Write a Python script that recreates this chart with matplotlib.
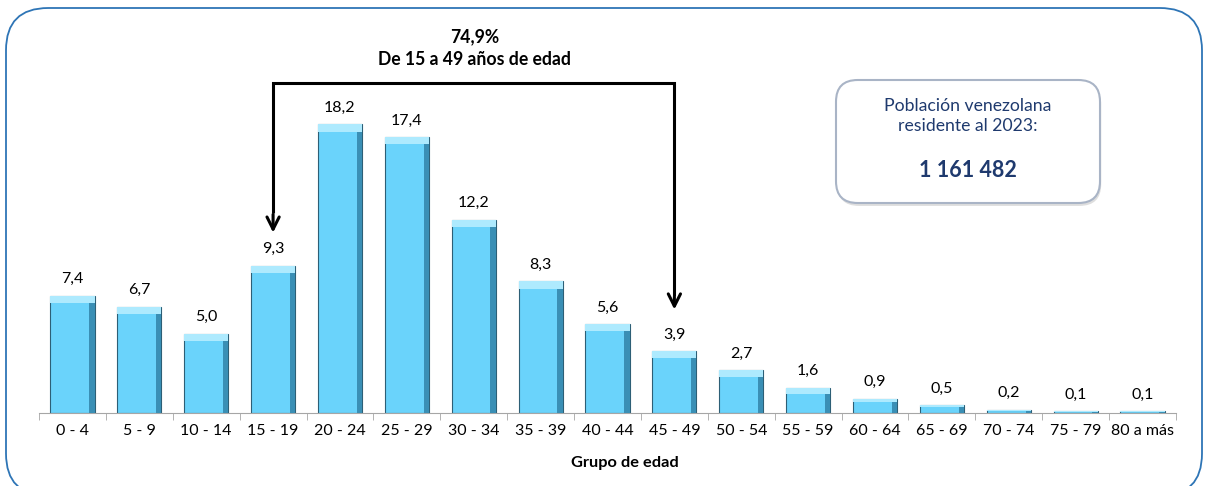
import matplotlib
matplotlib.use("Agg")
import matplotlib.pyplot as plt
import numpy as np
from matplotlib.patches import FancyBboxPatch

plt.rcParams['font.family'] = ['Lato', 'DejaVu Sans']

grupos = ["0 - 4", "5 - 9", "10 - 14", "15 - 19", "20 - 24", "25 - 29", "30 - 34",
          "35 - 39", "40 - 44", "45 - 49", "50 - 54", "55 - 59", "60 - 64",
          "65 - 69", "70 - 74", "75 - 79", "80 a más"]
porcentaje = [7.4, 6.7, 5.0, 9.3, 18.2, 17.4, 12.2, 8.3, 5.6, 3.9, 2.7, 1.6, 0.9,
              0.5, 0.2, 0.1, 0.1]
titulo = "74,9%\nDe 15 a 49 años de edad"
caja_texto = "Población venezolana\nresidente al 2023:"
total = "1 161 482"

fig = plt.figure(figsize=(12.06, 4.86), dpi=100)
asp = 1206/486

# outer rounded frame
frame = FancyBboxPatch((6/1206, -0.02), 1196/1206, 1 - 8/486 + 0.02,
                       boxstyle="round,pad=0,rounding_size=0.035",
                       transform=fig.transFigure, facecolor='none',
                       edgecolor='#2e75b6', linewidth=1.3, mutation_aspect=asp,
                       zorder=-1)
fig.patches.append(frame)

ax = fig.add_axes([39/1206, 73/486, 1137/1206, 333/486])
ax.patch.set_alpha(0)

x = np.arange(len(grupos))
vals = np.array(porcentaje)
w = 0.66
ax.bar(x, vals, width=w, color='#6ad3fb', edgecolor='#2d5f76', linewidth=0.8, zorder=2)
# bevel: darker right side and lighter top
ax.bar(x + w/2 - 0.04, vals, width=0.08, color='#3a8fb5', linewidth=0, zorder=3)
cap = np.minimum(0.45, vals * 0.25)
ax.bar(x, cap, bottom=vals - cap, width=w, color='#aeeafe', linewidth=0, zorder=3)

for xi, v in zip(x, vals):
    ax.text(xi, v + 0.6, f"{v:.1f}".replace('.', ','), ha='center', va='bottom',
            fontsize=11.5, color='black')

ax.set_xlim(-0.5, len(grupos) - 0.5)
ax.set_ylim(0, 21)
for s in ['top', 'right', 'left']:
    ax.spines[s].set_visible(False)
ax.spines['bottom'].set_color('#a6a6a6')
ax.set_yticks([])
ax.set_xticks(x)
ax.set_xticklabels(grupos, fontsize=11.5)
ax.tick_params(axis='x', which='major', length=0, pad=8)
ax.set_xticks(np.arange(-0.5, len(grupos), 1), minor=True)
ax.tick_params(axis='x', which='minor', length=5, color='#a6a6a6')
fig.text(625/1206, 1 - 463/486, "Grupo de edad", ha='center', va='center',
         fontsize=11.8, fontweight='bold')

# bracket 15-49 (centre of first and last group)
i0, i1 = grupos.index("15 - 19"), grupos.index("45 - 49")
ytop = 20.8
ax.plot([i0, i0, i1, i1], [12.6, ytop, ytop, 7.4], color='black', lw=2.2,
        clip_on=False, solid_capstyle='butt', solid_joinstyle='miter', zorder=4)
ax.annotate("", xy=(i0, 11.2), xytext=(i0, 12.7),
            arrowprops=dict(arrowstyle='->', lw=2.2, color='black', mutation_scale=22),
            annotation_clip=False)
ax.annotate("", xy=(i1, 6.35), xytext=(i1, 7.5),
            arrowprops=dict(arrowstyle='->', lw=2.2, color='black', mutation_scale=22),
            annotation_clip=False)
fig.text(475/1206, 1 - 48/486, titulo, ha='center', va='center', fontsize=12.7,
         fontweight='bold', linespacing=1.4)

# info box with shadow
bx, by, bw, bh = 836/1206, 1 - 203/486, 264/1206, 123/486
shadow = FancyBboxPatch((bx + 0.001, by - 0.006), bw, bh,
                        boxstyle="round,pad=0,rounding_size=0.018",
                        transform=fig.transFigure, facecolor='#d0d0d0',
                        edgecolor='none', mutation_aspect=asp, alpha=0.7)
box = FancyBboxPatch((bx, by), bw, bh, boxstyle="round,pad=0,rounding_size=0.018",
                     transform=fig.transFigure, facecolor='white',
                     edgecolor='#a9b4c6', linewidth=1.5, mutation_aspect=asp)
fig.patches.append(shadow)
fig.patches.append(box)
fig.text(968/1206, 1 - 116/486, caja_texto, ha='center', va='center', fontsize=12.7,
         color='#1f3a6e', linespacing=1.35)
fig.text(968/1206, 1 - 170/486, total, ha='center', va='center', fontsize=15.5,
         fontweight='bold', color='#1f3a6e')

fig.savefig("out.png", dpi=100)
